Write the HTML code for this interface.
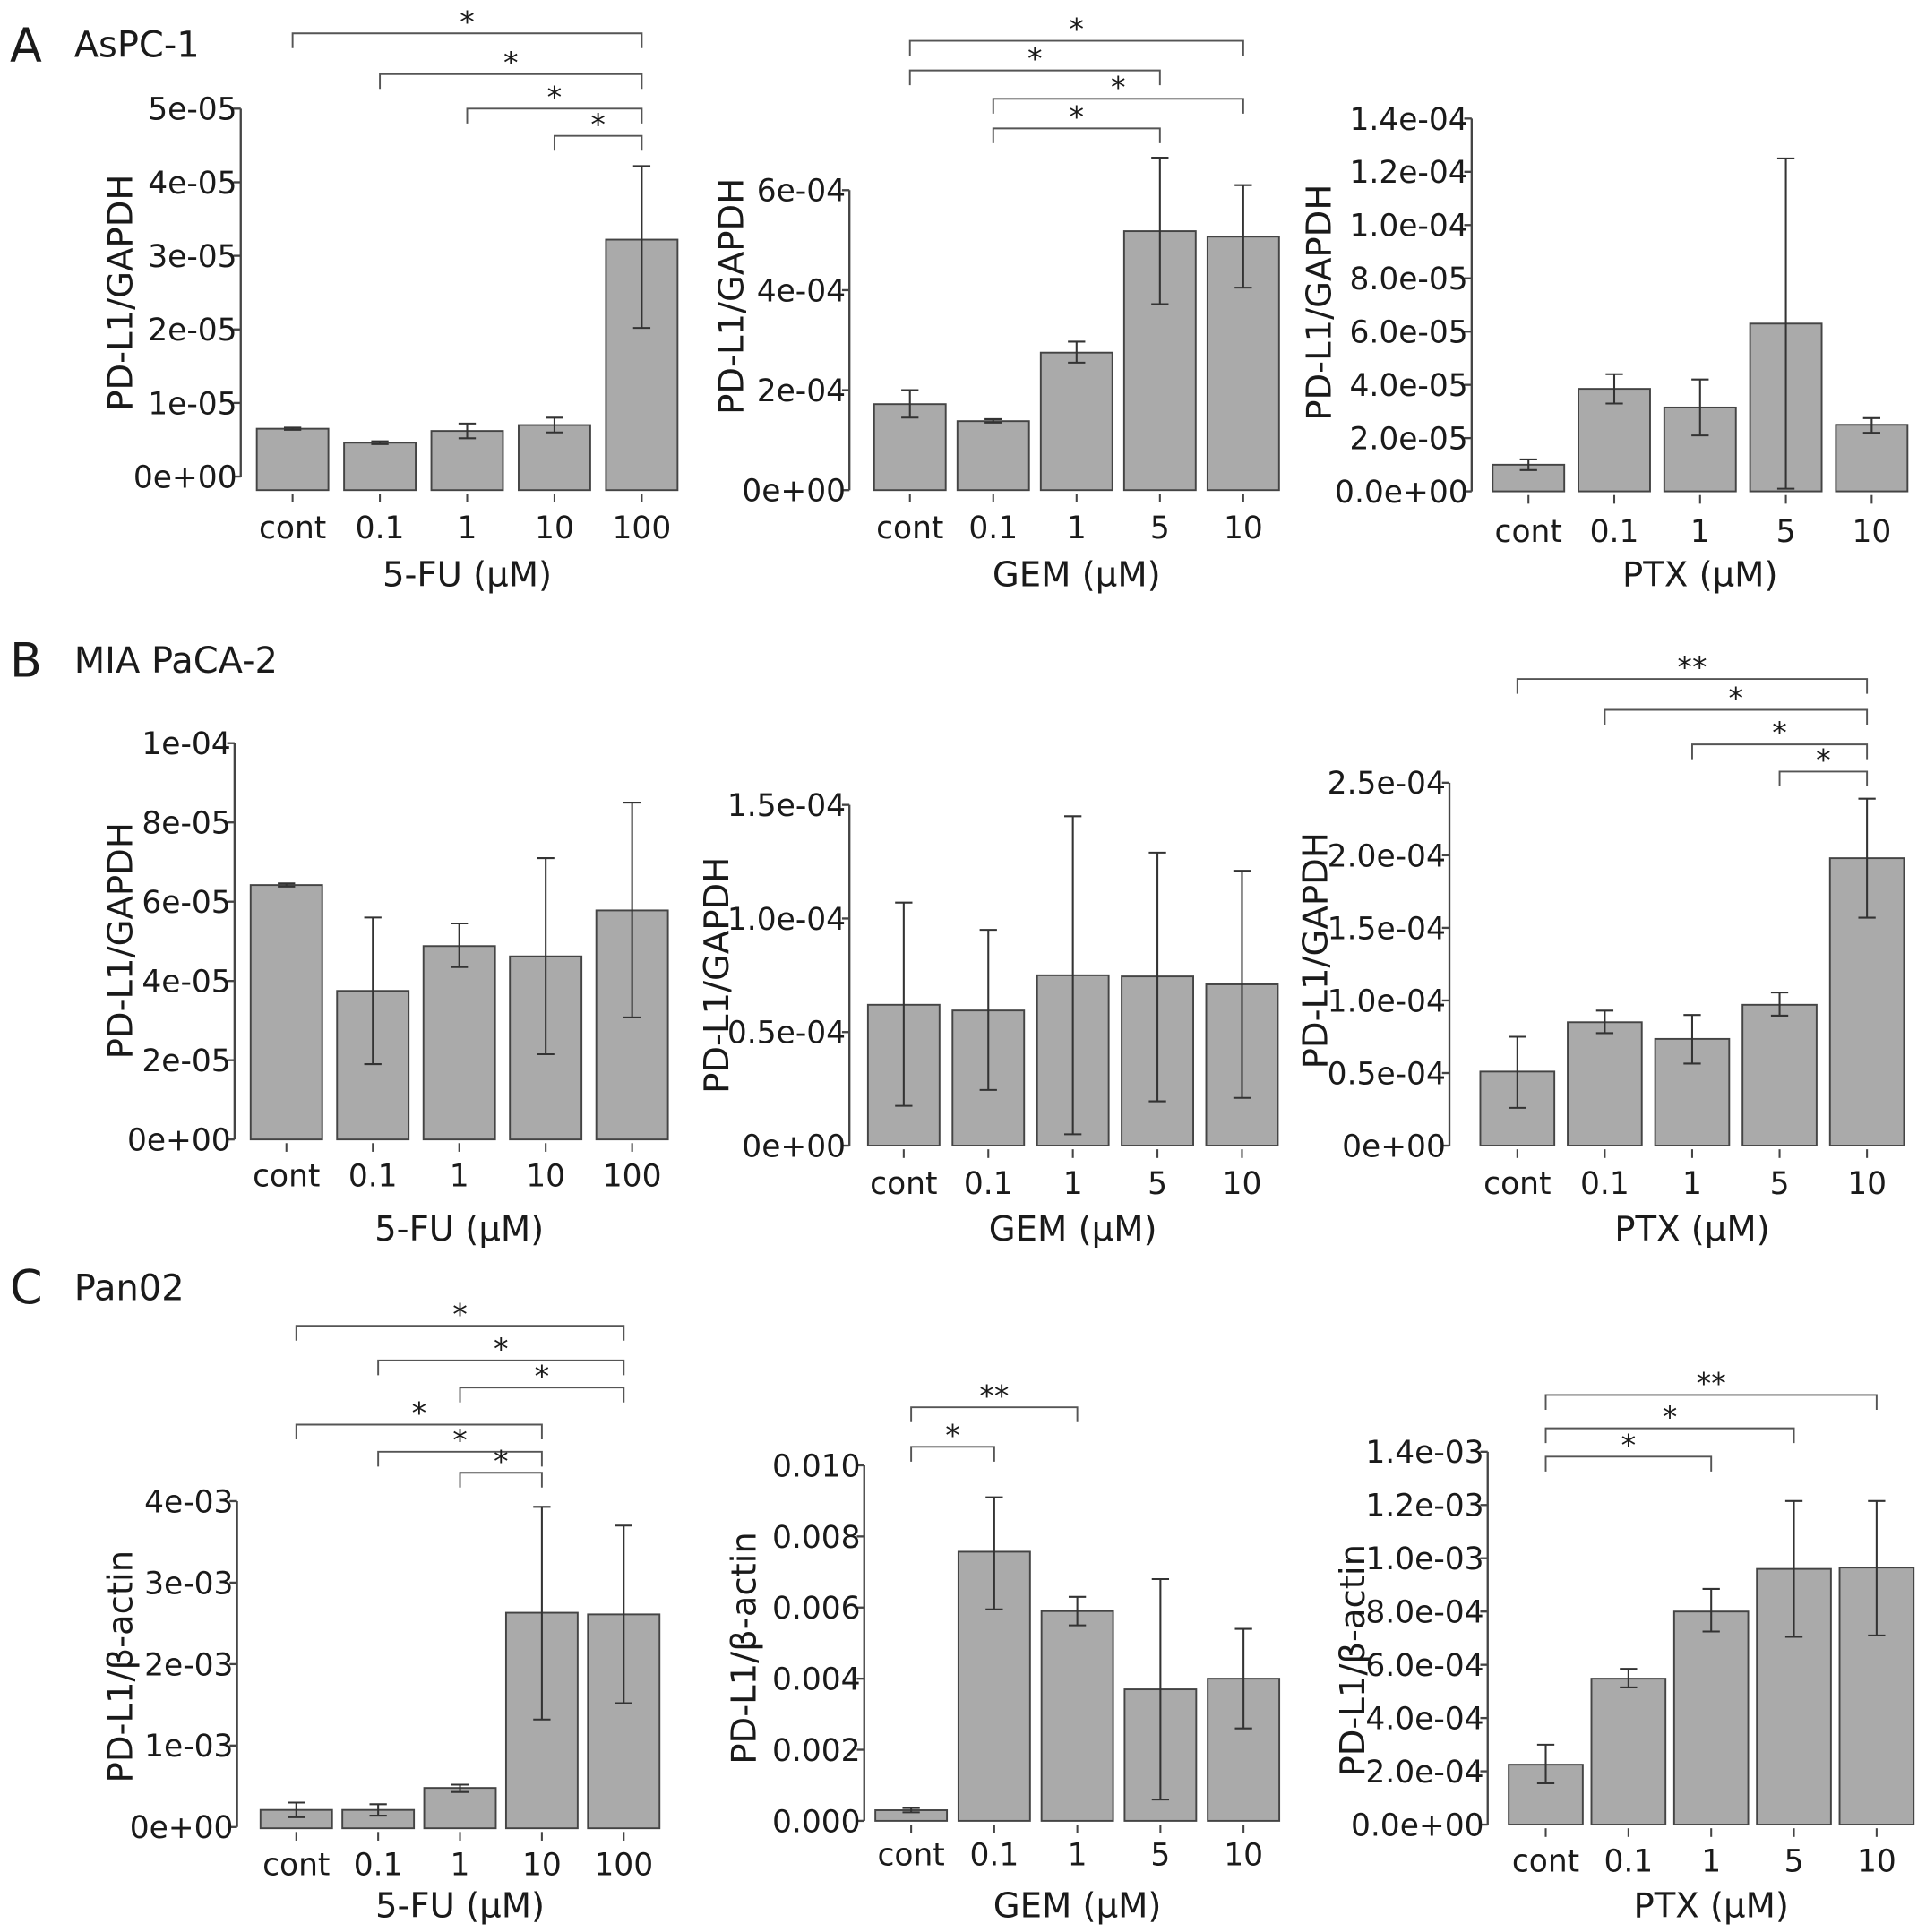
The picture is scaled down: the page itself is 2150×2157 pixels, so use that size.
<!DOCTYPE html>
<html><head><meta charset="utf-8"><style>
html,body{margin:0;padding:0;background:#fff}
svg{display:block}
text{font-family:"DejaVu Sans","Liberation Sans",sans-serif;fill:#1a1a1a}
</style></head><body>
<svg id="fig" width="2150" height="2157" viewBox="0 0 1560 1565" xmlns="http://www.w3.org/2000/svg">
<text x="8" y="50" font-size="38">A</text>
<text x="60" y="46" font-size="29">AsPC-1</text>
<text x="8" y="548" font-size="38">B</text>
<text x="60" y="545" font-size="29">MIA PaCA-2</text>
<text x="8" y="1056" font-size="38">C</text>
<text x="60" y="1053" font-size="29">Pan02</text>
</svg>
<script>
// ---- data ----
const catsFU = ["cont","0.1","1","10","100"];
const catsDose = ["cont","0.1","1","5","10"];

const a1Vals = [6.5e-6,4.6e-6,6.2e-6,7.0e-6,3.22e-5];
const a1Lo = [6.35e-6,4.4e-6,5.2e-6,6.0e-6,2.02e-5];
const a1Hi = [6.65e-6,4.8e-6,7.2e-6,8.0e-6,4.22e-5];
const a1Ticks = [0,1e-5,2e-5,3e-5,4e-5,5e-5];
const a1TickLabels = ["0e+00","1e-05","2e-05","3e-05","4e-05","5e-05"];

const a2Vals = [1.72e-4,1.38e-4,2.75e-4,5.18e-4,5.07e-4];
const a2Lo = [1.45e-4,1.35e-4,2.55e-4,3.72e-4,4.05e-4];
const a2Hi = [2.0e-4,1.42e-4,2.97e-4,6.65e-4,6.1e-4];
const a2Ticks = [0,2e-4,4e-4,6e-4];
const a2TickLabels = ["0e+00","2e-04","4e-04","6e-04"];

const a3Vals = [1.0e-5,3.85e-5,3.15e-5,6.3e-5,2.5e-5];
const a3Lo = [0.8e-5,3.3e-5,2.1e-5,0.1e-5,2.2e-5];
const a3Hi = [1.2e-5,4.4e-5,4.2e-5,12.5e-5,2.75e-5];
const a3Ticks = [0,2e-5,4e-5,6e-5,8e-5,1e-4,1.2e-4,1.4e-4];
const a3TickLabels = ["0.0e+00","2.0e-05","4.0e-05","6.0e-05","8.0e-05","1.0e-04","1.2e-04","1.4e-04"];

const b1Vals = [6.42e-5,3.75e-5,4.88e-5,4.62e-5,5.78e-5];
const b1Lo = [6.38e-5,1.9e-5,4.35e-5,2.15e-5,3.08e-5];
const b1Hi = [6.46e-5,5.6e-5,5.45e-5,7.1e-5,8.5e-5];
const b1Ticks = [0,2e-5,4e-5,6e-5,8e-5,1e-4];
const b1TickLabels = ["0e+00","2e-05","4e-05","6e-05","8e-05","1e-04"];

const b2Vals = [6.2e-5,5.95e-5,7.5e-5,7.45e-5,7.1e-5];
const b2Lo = [1.75e-5,2.45e-5,0.5e-5,1.95e-5,2.1e-5];
const b2Hi = [10.7e-5,9.5e-5,14.5e-5,12.9e-5,12.1e-5];
const b2Ticks = [0,0.5e-4,1e-4,1.5e-4];
const b2TickLabels = ["0e+00","0.5e-04","1.0e-04","1.5e-04"];

const b3Vals = [5.1e-5,8.5e-5,7.35e-5,9.7e-5,1.98e-4];
const b3Lo = [2.6e-5,7.75e-5,5.65e-5,8.95e-5,1.57e-4];
const b3Hi = [7.5e-5,9.3e-5,9.0e-5,10.55e-5,2.39e-4];
const b3Ticks = [0,0.5e-4,1e-4,1.5e-4,2e-4,2.5e-4];
const b3TickLabels = ["0e+00","0.5e-04","1.0e-04","1.5e-04","2.0e-04","2.5e-04"];

const c1Vals = [2.1e-4,2.1e-4,4.8e-4,2.63e-3,2.61e-3];
const c1Lo = [1.2e-4,1.4e-4,4.3e-4,1.32e-3,1.52e-3];
const c1Hi = [3.0e-4,2.8e-4,5.2e-4,3.93e-3,3.7e-3];
const c1Ticks = [0,1e-3,2e-3,3e-3,4e-3];
const c1TickLabels = ["0e+00","1e-03","2e-03","3e-03","4e-03"];

const c2Vals = [0.0003,0.00757,0.0059,0.0037,0.004];
const c2Lo = [0.00024,0.00595,0.0055,0.0006,0.0026];
const c2Hi = [0.00036,0.0091,0.0063,0.0068,0.0054];
const c2Ticks = [0,0.002,0.004,0.006,0.008,0.010];
const c2TickLabels = ["0.000","0.002","0.004","0.006","0.008","0.010"];

const c3Vals = [2.25e-4,5.48e-4,8.0e-4,9.6e-4,9.65e-4];
const c3Lo = [1.55e-4,5.15e-4,7.25e-4,7.05e-4,7.1e-4];
const c3Hi = [3.0e-4,5.85e-4,8.85e-4,12.15e-4,12.15e-4];
const c3Ticks = [0,2e-4,4e-4,6e-4,8e-4,1e-3,1.2e-3,1.4e-3];
const c3TickLabels = ["0.0e+00","2.0e-04","4.0e-04","6.0e-04","8.0e-04","1.0e-03","1.2e-03","1.4e-03"];

// significance: [fromIndex, toIndex, label]
const a1Sig = [[0,4,"*"],[1,4,"*"],[2,4,"*"],[3,4,"*"]];
const a2Sig = [[0,4,"*"],[0,3,"*"],[1,4,"*"],[1,3,"*"]];
const b3Sig = [[0,4,"**"],[1,4,"*"],[2,4,"*"],[3,4,"*"]];
const c1Sig = [[0,4,"*"],[1,4,"*"],[2,4,"*"],[0,3,"*"],[1,3,"*"],[2,3,"*"]];
const c2Sig = [[0,2,"**"],[0,1,"*"]];
const c3Sig = [[0,4,"**"],[0,3,"*"],[0,2,"*"]];

// ---- layout (pixel geometry) ----
const panels = [
 {id:"a1",cats:catsFU,v:a1Vals,lo:a1Lo,hi:a1Hi,t:a1Ticks,tl:a1TickLabels,sig:a1Sig,ax:195,y0:386,yTop:88,base:397,c0:237,step:70.7,bw:58,xl:427,xt:465,xlab:"5-FU (\u03bcM)",ylx:97,yly:237,ylab:"PD-L1/GAPDH",sigY:[27,60,88,110]},
 {id:"a2",cats:catsDose,v:a2Vals,lo:a2Lo,hi:a2Hi,t:a2Ticks,tl:a2TickLabels,sig:a2Sig,ax:688,y0:397,yTop:154,base:397,c0:737,step:67.5,bw:58,xl:427,xt:465,xlab:"GEM (\u03bcM)",ylx:592,yly:240,ylab:"PD-L1/GAPDH",sigY:[33,57,80,104]},
 {id:"a3",cats:catsDose,v:a3Vals,lo:a3Lo,hi:a3Hi,t:a3Ticks,tl:a3TickLabels,sig:[],ax:1192,y0:398,yTop:96,base:398,c0:1238,step:69.5,bw:58,xl:430,xt:465,xlab:"PTX (\u03bcM)",ylx:1068,yly:245,ylab:"PD-L1/GAPDH",sigY:[]},
 {id:"b1",cats:catsFU,v:b1Vals,lo:b1Lo,hi:b1Hi,t:b1Ticks,tl:b1TickLabels,sig:[],ax:190,y0:923,yTop:602,base:923,c0:232,step:70,bw:58,xl:952,xt:995,xlab:"5-FU  (\u03bcM)",ylx:97,yly:762,ylab:"PD-L1/GAPDH",sigY:[]},
 {id:"b2",cats:catsDose,v:b2Vals,lo:b2Lo,hi:b2Hi,t:b2Ticks,tl:b2TickLabels,sig:[],ax:688,y0:928,yTop:652,base:928,c0:732,step:68.5,bw:58,xl:958,xt:995,xlab:"GEM (\u03bcM)",ylx:580,yly:790,ylab:"PD-L1/GAPDH",sigY:[]},
 {id:"b3",cats:catsDose,v:b3Vals,lo:b3Lo,hi:b3Hi,t:b3Ticks,tl:b3TickLabels,sig:b3Sig,ax:1174,y0:928,yTop:634,base:928,c0:1229,step:70.8,bw:60,xl:958,xt:995,xlab:"PTX (\u03bcM)",ylx:1065,yly:770,ylab:"PD-L1/GAPDH",sigY:[550,575,603,625]},
 {id:"c1",cats:catsFU,v:c1Vals,lo:c1Lo,hi:c1Hi,t:c1Ticks,tl:c1TickLabels,sig:c1Sig,ax:192,y0:1480,yTop:1216,base:1481,c0:240,step:66.3,bw:58,xl:1510,xt:1543,xlab:"5-FU (\u03bcM)",ylx:97,yly:1350,ylab:"PD-L1/\u03b2-actin",sigY:[1074,1102,1124,1154,1176,1193]},
 {id:"c2",cats:catsDose,v:c2Vals,lo:c2Lo,hi:c2Hi,t:c2Ticks,tl:c2TickLabels,sig:c2Sig,ax:700,y0:1475,yTop:1187,base:1475,c0:738,step:67.3,bw:58,xl:1502,xt:1543,xlab:"GEM (\u03bcM)",ylx:602,yly:1335,ylab:"PD-L1/\u03b2-actin",sigY:[1140,1172]},
 {id:"c3",cats:catsDose,v:c3Vals,lo:c3Lo,hi:c3Hi,t:c3Ticks,tl:c3TickLabels,sig:c3Sig,ax:1205,y0:1478,yTop:1176,base:1478,c0:1252,step:67,bw:60,xl:1507,xt:1543,xlab:"PTX (\u03bcM)",ylx:1095,yly:1345,ylab:"PD-L1/\u03b2-actin",sigY:[1130,1157,1180]}
];

const svg = document.getElementById('fig');
const NS = "http://www.w3.org/2000/svg";
function mk(tag, attrs, parent){
  const e = document.createElementNS(NS, tag);
  for (const k in attrs) e.setAttribute(k, attrs[k]);
  parent.appendChild(e);
  return e;
}
panels.forEach(p => {
  const g = mk('g', {}, svg);
  
  
  const tMax = p.t[p.t.length-1];
  const yS = v => p.y0 - (v / tMax) * (p.y0 - p.yTop);
  const xS = i => p.c0 + i * p.step;
  const axl = mk('line', {x1:p.ax,x2:p.ax,y1:p.yTop,y2:p.y0,stroke:'#444','stroke-width':1.7}, g);
  
  
  p.t.forEach((tv, i) => {
    const y = yS(tv);
    mk('line', {x1:p.ax-6,x2:p.ax,y1:y,y2:y,stroke:'#444','stroke-width':1.7}, g);
    const tx = mk('text', {x:p.ax-3,y:y+9,'font-size':25,'text-anchor':'end'}, g);
    tx.textContent = p.tl[i];
    
    
  });
  p.v.forEach((v, i) => {
    const cx = xS(i);
    const top = yS(v);
    const r = mk('rect', {x:cx-p.bw/2,y:top,width:p.bw,height:p.base-top,fill:'#aaaaaa',stroke:'#444','stroke-width':1.4}, g);
    
    
    const yl = yS(p.lo[i]), yh = yS(p.hi[i]);
    const eb = mk('path', {d:`M${cx},${yl}V${yh}M${cx-7},${yl}H${cx+7}M${cx-7},${yh}H${cx+7}`,stroke:'#333','stroke-width':1.5,fill:'none'}, g);
    
    
    mk('line', {x1:cx,x2:cx,y1:p.base+3,y2:p.base+10,stroke:'#444','stroke-width':1.5}, g);
    const lt = mk('text', {x:cx,y:p.xl+9,'font-size':25,'text-anchor':'middle'}, g);
    lt.textContent = p.cats[i];
    
    
  });
  const xt = mk('text', {x:(xS(0)+xS(p.cats.length-1))/2,y:p.xt+10,'font-size':28,'text-anchor':'middle'}, g);
  xt.textContent = p.xlab;
  
  
  const yt = mk('text', {x:0,y:0,'font-size':28,'text-anchor':'middle',transform:`translate(${p.ylx+10},${p.yly}) rotate(-90)`}, g);
  yt.textContent = p.ylab;
  
  
  p.sig.forEach((s, k) => {
    const y = p.sigY[k];
    const x1 = xS(s[0]), x2 = xS(s[1]);
    const br = mk('path', {d:`M${x1},${y+12}V${y}H${x2}V${y+12}`,stroke:'#555','stroke-width':1.4,fill:'none'}, g);
    
    
    const st = mk('text', {x:(x1+x2)/2,y:y-1,'font-size':24,'text-anchor':'middle'}, g);
    st.textContent = s[2];
    
    
  });
});
</script>
</body></html>
